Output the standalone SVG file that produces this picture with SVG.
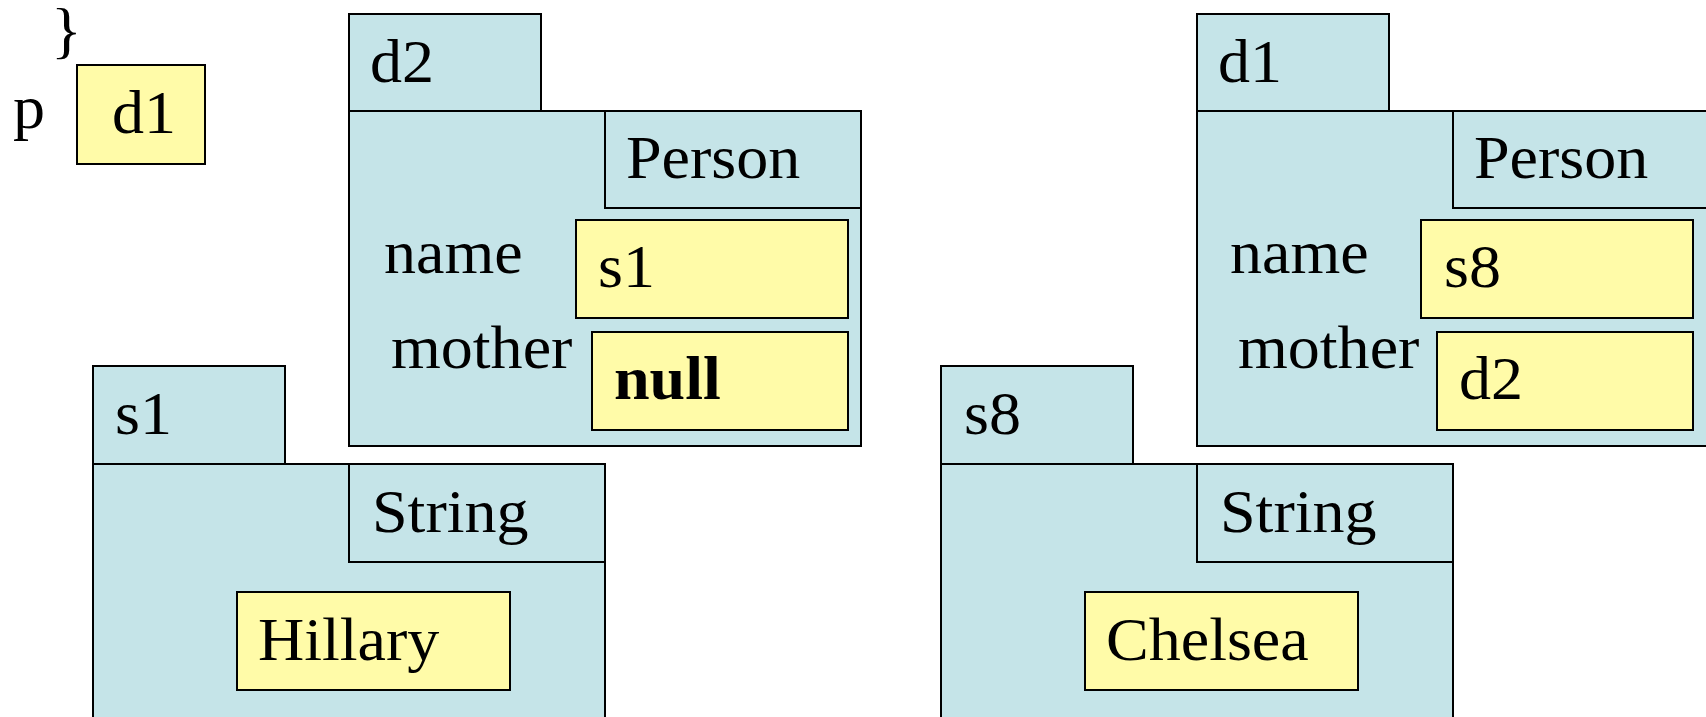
<svg xmlns="http://www.w3.org/2000/svg" width="1706" height="717" viewBox="0 0 1706 717">
<style>
.obj{fill:#C5E4E8;stroke:#000;stroke-width:2}
.val{fill:#FFFBA8;stroke:#000;stroke-width:2}
text{font-family:"Liberation Serif","Times New Roman",serif;font-size:61px;fill:#000}
.b{font-weight:bold}
</style>
<rect width="1706" height="717" fill="#fff"/>
<g id="var-p">
<text transform="translate(51,51) scale(1.05,1)">}</text>
<text transform="translate(13,128) scale(1.05,1)">p</text>
<rect class="val" x="77" y="65" width="128" height="99"/>
<text transform="translate(112,133) scale(1.05,1)">d1</text>
</g>
<g id="obj-d2">
<rect class="obj" x="349" y="111" width="512" height="335"/>
<rect class="obj" x="349" y="14" width="192" height="97"/>
<text transform="translate(370,82) scale(1.05,1)">d2</text>
<rect class="obj" x="605" y="111" width="256" height="97"/>
<text transform="translate(626,178) scale(1.05,1)">Person</text>
<text transform="translate(384,273) scale(1.05,1)">name</text>
<rect class="val" x="576" y="220" width="272" height="98"/>
<text transform="translate(598,287) scale(1.05,1)">s1</text>
<text transform="translate(391,368) scale(1.05,1)">mother</text>
<rect class="val" x="592" y="332" width="256" height="98"/>
<text class="b" transform="translate(614,399) scale(1.05,1)">null</text>
</g>
<g id="obj-d1">
<rect class="obj" x="1197" y="111" width="530" height="335"/>
<rect class="obj" x="1197" y="14" width="192" height="97"/>
<text transform="translate(1218,82) scale(1.05,1)">d1</text>
<rect class="obj" x="1453" y="111" width="280" height="97"/>
<text transform="translate(1474,178) scale(1.05,1)">Person</text>
<text transform="translate(1230,273) scale(1.05,1)">name</text>
<rect class="val" x="1421" y="220" width="272" height="98"/>
<text transform="translate(1444,287) scale(1.05,1)">s8</text>
<text transform="translate(1238,368) scale(1.05,1)">mother</text>
<rect class="val" x="1437" y="332" width="256" height="98"/>
<text transform="translate(1459,399) scale(1.05,1)">d2</text>
</g>
<g id="obj-s1">
<rect class="obj" x="93" y="464" width="512" height="280"/>
<rect class="obj" x="93" y="366" width="192" height="98"/>
<text transform="translate(115,434) scale(1.05,1)">s1</text>
<rect class="obj" x="349" y="464" width="256" height="98"/>
<text transform="translate(372,532) scale(1.05,1)">String</text>
<rect class="val" x="237" y="592" width="273" height="98"/>
<text transform="translate(258,660) scale(1.05,1)">Hillary</text>
</g>
<g id="obj-s8">
<rect class="obj" x="941" y="464" width="512" height="280"/>
<rect class="obj" x="941" y="366" width="192" height="98"/>
<text transform="translate(964,434) scale(1.05,1)">s8</text>
<rect class="obj" x="1197" y="464" width="256" height="98"/>
<text transform="translate(1220,532) scale(1.05,1)">String</text>
<rect class="val" x="1085" y="592" width="273" height="98"/>
<text transform="translate(1106,660) scale(1.05,1)">Chelsea</text>
</g>
<g id="connectors"></g>
</svg>
